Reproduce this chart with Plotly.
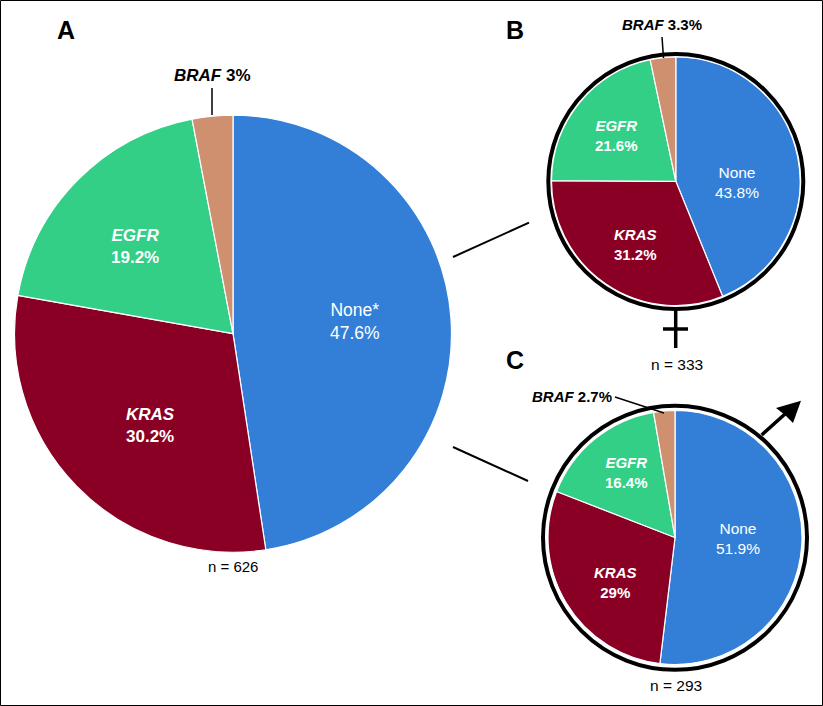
import plotly.graph_objects as go

W, H = 823, 706
labels = ["None", "KRAS", "EGFR", "BRAF"]
colors = ["#337FD8", "#8A0025", "#33CF87", "#CF9070"]
values_a = [47.6, 30.2, 19.2, 3.0]
values_b = [43.8, 31.2, 21.6, 3.3]
values_c = [51.9, 29.0, 16.4, 2.7]
FONT = "Liberation Sans"


def px(x):
    return x / W


def py(y):
    return 1 - y / H


def pie(values, cx, cy, r):
    return go.Pie(
        labels=labels, values=values, sort=False, direction="clockwise", rotation=0,
        textinfo="none", hoverinfo="label+percent", showlegend=False,
        marker=dict(colors=colors, line=dict(color="white", width=1.2)),
        domain=dict(x=[px(cx - r), px(cx + r)], y=[py(cy + r), py(cy - r)]),
    )


fig = go.Figure([pie(values_a, 233, 333.7, 218.5), pie(values_b, 675.8, 181.3, 124.3), pie(values_c, 675, 537.5, 127)])


def line(x0, y0, x1, y1, width=2):
    return dict(type="line", xref="paper", yref="paper", x0=px(x0), y0=py(y0), x1=px(x1), y1=py(y1),
                line=dict(color="black", width=width))


def ring(cx, cy, r):
    return dict(type="circle", xref="paper", yref="paper", x0=px(cx - r), x1=px(cx + r), y0=py(cy + r), y1=py(cy - r),
                line=dict(color="black", width=4), fillcolor="rgba(0,0,0,0)")


shapes = [
    dict(type="rect", xref="paper", yref="paper", x0=px(0.5), x1=px(822.5), y0=py(705.5), y1=py(0.5),
         line=dict(color="black", width=1)),
    ring(675.8, 181.5, 127.5), ring(675, 537.8, 132),
    line(453, 257, 529, 222.7), line(453, 447, 528, 481),
    line(675.7, 311, 675.7, 348, 3.5), line(663, 329, 688, 329, 3.5),
    line(761.7, 435, 785, 414, 3.5),
    line(212, 88, 212, 115, 1.5), line(662, 37, 663.5, 58, 1.5), line(615, 397, 664, 413, 1.5),
    dict(type="path", xref="paper", yref="paper", fillcolor="black", line=dict(width=0),
         path=f"M {px(801)} {py(400.7)} L {px(776)} {py(408)} L {px(785)} {py(415)} L {px(793)} {py(423)} Z"),
]

texts = [
    ("<b>A</b>", 66, 30, 25, "black"), ("<b>B</b>", 515, 30, 25, "black"), ("<b>C</b>", 515, 360, 25, "black"),
    ("None*<br>47.6%", 355, 321, 17.5, "white"),
    ("<b><i>KRAS</i><br>30.2%</b>", 150, 425, 17, "white"),
    ("<b><i>EGFR</i><br>19.2%</b>", 135, 246, 17, "white"),
    ("<b><i>BRAF</i> 3%</b>", 212.5, 75, 17, "black"),
    ("n = 626", 233, 566, 15, "black"),
    ("None<br>43.8%", 736.7, 182, 15.5, "white"),
    ("<b><i>KRAS</i><br>31.2%</b>", 635, 244.5, 15, "white"),
    ("<b><i>EGFR</i><br>21.6%</b>", 616.7, 135.5, 15, "white"),
    ("<b><i>BRAF</i> 3.3%</b>", 661.7, 24, 15, "black"),
    ("n = 333", 677, 364, 15.5, "black"),
    ("None<br>51.9%", 738, 538, 15.5, "white"),
    ("<b><i>KRAS</i><br>29%</b>", 615, 582, 15, "white"),
    ("<b><i>EGFR</i><br>16.4%</b>", 626.7, 472, 15, "white"),
    ("<b><i>BRAF</i> 2.7%</b>", 572, 396, 15, "black"),
    ("n = 293", 676, 685.5, 15.5, "black"),
]
annotations = [
    dict(text=t, x=px(x), y=py(y), xref="paper", yref="paper", showarrow=False, xanchor="center", yanchor="middle",
         align="center", font=dict(family=FONT, size=s, color=c))
    for t, x, y, s, c in texts
]

fig.update_layout(width=W, height=H, margin=dict(l=0, r=0, t=0, b=0), paper_bgcolor="white",
                  shapes=shapes, annotations=annotations, font=dict(family=FONT))
fig.write_html("out.html", config=dict(displayModeBar=False),
               post_script="document.body.style.margin='0';document.body.style.overflow='hidden';")
